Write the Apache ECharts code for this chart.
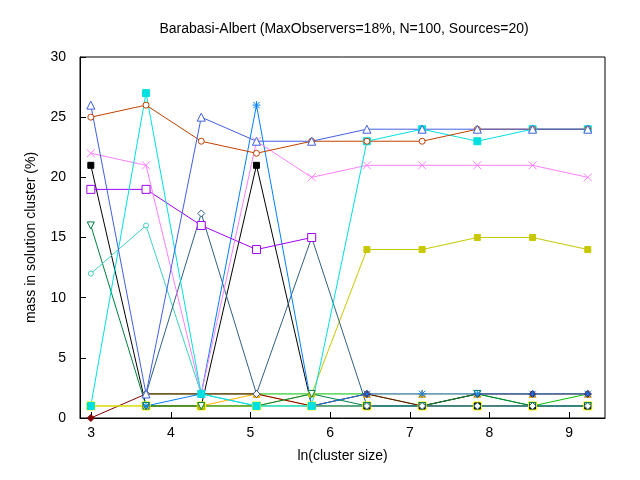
<!DOCTYPE html>
<html><head><meta charset="utf-8">
<script src="https://cdn.jsdelivr.net/npm/echarts@6/dist/echarts.min.js"></script>
<style>body{margin:0}#c{width:640px;height:480px}</style></head>
<body><div id="c"></div>
<script>
// x positions: ln of cluster size
let sizes = [20, 40, 80, 160, 320, 640, 1280, 2560, 5120, 10240];
let xTicks = [3, 4, 5, 6, 7, 8, 9];
let blueTri = [26, 2, 25, 23, 23, 24, 24, 24, 24, 24];
let rustCircle = [25, 26, 23, 22, 23, 23, 23, 24, 24, 24];
let cyanSquare = [1, 27, 2, 1, 1, 23, 24, 23, 24, 24];
let pinkCross = [22, 21, 2, 23, 20, 21, 21, 21, 21, 20];
let blackSquare = [21, 1, 1, 21, 1, 1, 1, 1, 1, 1];
let purpleSquare = [19, 19, 16, 14, 15, null, null, null, null, null];
let greenDown = [16, 1, 1, 1, 2, 1, 1, 2, 1, 1];
let turqCircle = [12, 16, 2, 1, 1, 1, 1, 1, 1, 1];
let slateDiamond = [null, 2, 17, 2, 15, 1, 1, 1, 1, 1];
let blueStar = [null, 1, 2, 26, 1, 2, 2, 2, 2, 2];
let oliveSquare = [1, 1, 1, 1, 2, 14, 14, 15, 15, 14];
let redDiamond = [0, 2, 2, 2, 1, 2, 1, 2, 2, 2];
let orangeTri = [null, 1, 1, 2, 1, 2, 2, 2, 2, 2];
let limeLine = [null, 2, 2, 2, 2, 2, 1, 2, 1, 2];
let yellowSquare = [1, 1, 1, 1, 1, 1, 1, 1, 1, 1];

let xs = sizes.map(s => Math.log(s));
function pts(arr) { return arr.map((v, i) => v === null ? null : [xs[i], v]).filter(p => p); }
function mk(name, arr, color, symbol, size, fill) {
    return {name: name, type: 'line', data: pts(arr), symbol: symbol, symbolSize: size || 7,
        lineStyle: {color: color, width: 1}, itemStyle: {color: fill ? color : '#fff', borderColor: color, borderWidth: 1},
        animation: false};
}
let series = [
    mk('a', limeLine, '#00c000', 'circle', 3, true),
    mk('b', orangeTri, '#ffb000', 'triangle', 7, true),
    mk('c', redDiamond, '#800000', 'diamond', 7, true),
    mk('d', yellowSquare, '#ffff00', 'rect', 8, true),
    mk('e', blackSquare, '#000000', 'rect', 6, true),
    mk('f', oliveSquare, '#c8c800', 'rect', 6, true),
    mk('g', greenDown, '#008040', 'path://M0,0L10,0L5,10Z', 7, false),
    mk('h', turqCircle, '#40d0c0', 'circle', 5, false),
    mk('i', slateDiamond, '#306080', 'diamond', 7, false),
    mk('j', blueStar, '#0080ff', 'path://M5,0L5,10M0,5L10,5M1,1L9,9M9,1L1,9', 8, false),
    mk('k', purpleSquare, '#a000ff', 'rect', 8, false),
    mk('l', pinkCross, '#ff80ff', 'path://M0,0L10,10M10,0L0,10', 8, false),
    mk('m', cyanSquare, '#00e0e0', 'rect', 7, true),
    mk('n', rustCircle, '#c04000', 'circle', 6, false),
    mk('o', blueTri, '#4060e0', 'triangle', 8, false)
];
let font = 'Liberation Sans';
let chart = echarts.init(document.getElementById('c'));
chart.setOption({
    backgroundColor: '#fff',
    title: {text: 'Barabasi-Albert (MaxObservers=18%, N=100, Sources=20)', left: 339, top: 17, textAlign: 'center',
        textStyle: {fontFamily: font, fontSize: 14, fontWeight: 'normal', color: '#000'}},
    grid: {left: 80, right: 35, top: 57, bottom: 62, show: true, borderColor: '#000', borderWidth: 1},
    xAxis: {type: 'value', min: 2.86, max: 9.45, splitLine: {show: false},
        axisLine: {lineStyle: {color: '#000'}},
        name: 'ln(cluster size)', nameLocation: 'middle', nameGap: 31,
        nameTextStyle: {fontFamily: font, fontSize: 14, color: '#000'},
        axisTick: {inside: true, length: 6, lineStyle: {color: '#000'}, customValues: xTicks},
        axisLabel: {customValues: xTicks, fontFamily: font, fontSize: 14, color: '#000'}},
    yAxis: {type: 'value', min: 0, max: 30, interval: 5, splitLine: {show: false},
        axisLine: {lineStyle: {color: '#000'}},
        axisTick: {inside: true, length: 6, lineStyle: {color: '#000'}},
        name: 'mass in solution cluster (%)', nameLocation: 'middle', nameGap: 42,
        nameTextStyle: {fontFamily: font, fontSize: 14, color: '#000'},
        axisLabel: {fontFamily: font, fontSize: 14, color: '#000', margin: 14}},
    series: series
});
</script></body></html>
